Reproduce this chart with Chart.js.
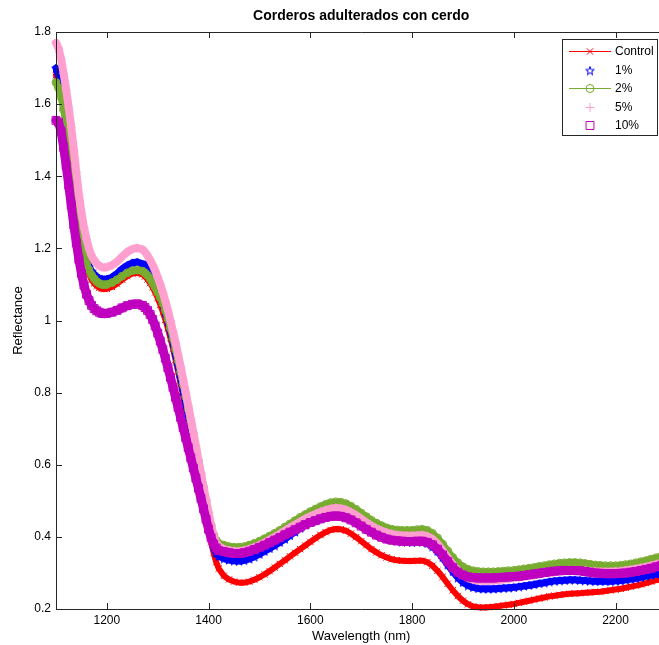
<!DOCTYPE html>
<html>
<head>
<meta charset="utf-8">
<title>Corderos adulterados con cerdo</title>
<script src="https://cdn.jsdelivr.net/npm/chart.js@4/dist/chart.umd.min.js"></script>
<style>
  html, body { margin: 0; padding: 0; background: #fff; overflow: hidden; }
  canvas { display: block; }
</style>
</head>
<body>
<canvas id="chart" width="673" height="645"></canvas>
<script>
// --- data ---
const wavelengths = [
  1100, 1105, 1110, 1115, 1120, 1125, 1130, 1135, 1140, 1145, 1150, 1155, 1160, 1165, 1170, 1175, 1180, 1185, 1190, 1195, 1200,
  1210, 1220, 1230, 1240, 1250, 1260, 1270,
  1275, 1280, 1285, 1290, 1295, 1300, 1305, 1310, 1315, 1320, 1325, 1330, 1335, 1340, 1345, 1350, 1355, 1360, 1365, 1370,
  1375, 1380, 1385, 1390, 1395, 1400, 1405, 1410, 1415, 1420,
  1430, 1440, 1450, 1460, 1470, 1480, 1490, 1500, 1510, 1520, 1530, 1540, 1550, 1560, 1570, 1580, 1590, 1600, 1610, 1620,
  1630, 1640, 1650, 1660, 1670, 1680, 1690, 1700, 1710, 1720, 1730, 1740, 1750, 1760, 1770, 1780, 1790, 1800, 1810, 1820,
  1830, 1840, 1850, 1860, 1870, 1880, 1890, 1900, 1910, 1920, 1930, 1940, 1950, 1960, 1970, 1980, 1990, 2000, 2010, 2020,
  2030, 2040, 2050, 2060, 2070, 2080, 2090, 2100, 2110, 2120, 2130, 2140, 2150, 2160, 2170, 2180, 2190, 2200, 2210, 2220,
  2230, 2240, 2250, 2260, 2270, 2280, 2290, 2300
];

const control = [
  1.68, 1.66, 1.63, 1.59, 1.545, 1.495, 1.44, 1.38, 1.32, 1.265, 1.22, 1.18, 1.15, 1.128, 1.113, 1.103, 1.096, 1.091, 1.088, 1.087, 1.088,
  1.093, 1.102, 1.113, 1.123, 1.13, 1.132, 1.128,
  1.122, 1.114, 1.104, 1.092, 1.078, 1.062, 1.044, 1.024, 1.002, 0.978, 0.951, 0.922, 0.891, 0.859, 0.825, 0.79, 0.754, 0.717, 0.68, 0.642,
  0.604, 0.566, 0.528, 0.49, 0.453, 0.418, 0.385, 0.355, 0.33, 0.312,
  0.292, 0.282, 0.276, 0.273, 0.273, 0.276, 0.281, 0.288, 0.296, 0.305, 0.315, 0.325, 0.335, 0.346, 0.356, 0.366, 0.376, 0.386, 0.396, 0.405,
  0.413, 0.419, 0.422, 0.421, 0.417, 0.409, 0.399, 0.388, 0.377, 0.366, 0.357, 0.349, 0.343, 0.338, 0.335, 0.334, 0.333, 0.333, 0.334, 0.334,
  0.33, 0.32, 0.306, 0.289, 0.27, 0.252, 0.236, 0.223, 0.213, 0.207, 0.205, 0.204, 0.205, 0.206, 0.208, 0.21, 0.212, 0.214, 0.217, 0.22,
  0.223, 0.226, 0.229, 0.232, 0.235, 0.237, 0.239, 0.241, 0.242, 0.243, 0.244, 0.245, 0.246, 0.247, 0.248, 0.25, 0.252, 0.254, 0.256, 0.259,
  0.262, 0.265, 0.268, 0.272, 0.276, 0.28, 0.284, 0.288
];

const pct1 = [
  1.70, 1.68, 1.645, 1.60, 1.55, 1.50, 1.44, 1.38, 1.32, 1.27, 1.23, 1.195, 1.17, 1.15, 1.137, 1.128, 1.121, 1.117, 1.115, 1.114, 1.115,
  1.12, 1.13, 1.143, 1.153, 1.16, 1.162, 1.157,
  1.155, 1.146, 1.134, 1.12, 1.104, 1.087, 1.068, 1.047, 1.024, 0.998, 0.97, 0.94, 0.908, 0.875, 0.841, 0.806, 0.77, 0.733, 0.696, 0.658,
  0.62, 0.582, 0.544, 0.506, 0.469, 0.433, 0.399, 0.372, 0.355, 0.346,
  0.34, 0.336, 0.334, 0.333, 0.335, 0.339, 0.345, 0.352, 0.36, 0.368, 0.376, 0.385, 0.394, 0.404, 0.414, 0.424, 0.433, 0.442, 0.45, 0.457,
  0.464, 0.469, 0.472, 0.471, 0.467, 0.459, 0.449, 0.439, 0.428, 0.418, 0.41, 0.403, 0.397, 0.392, 0.389, 0.387, 0.386, 0.385, 0.386, 0.386,
  0.382, 0.373, 0.36, 0.343, 0.323, 0.304, 0.287, 0.274, 0.265, 0.26, 0.257, 0.256, 0.256, 0.256, 0.257, 0.258, 0.259, 0.26, 0.262, 0.264,
  0.266, 0.268, 0.271, 0.273, 0.276, 0.278, 0.279, 0.28, 0.281, 0.281, 0.28, 0.279, 0.278, 0.277, 0.277, 0.277, 0.277, 0.278, 0.279, 0.281,
  0.283, 0.285, 0.288, 0.291, 0.294, 0.297, 0.3, 0.303
];

const pct2 = [
  1.66, 1.645, 1.62, 1.585, 1.54, 1.49, 1.435, 1.38, 1.32, 1.27, 1.225, 1.19, 1.16, 1.14, 1.126, 1.116, 1.108, 1.103, 1.10, 1.099, 1.10,
  1.105, 1.113, 1.123, 1.132, 1.138, 1.14, 1.137,
  1.132, 1.125, 1.116, 1.104, 1.092, 1.078, 1.064, 1.048, 1.028, 1.005, 0.979, 0.95, 0.92, 0.889, 0.857, 0.823, 0.789, 0.754, 0.718, 0.682,
  0.646, 0.61, 0.573, 0.537, 0.5, 0.465, 0.432, 0.405, 0.39, 0.382,
  0.377, 0.373, 0.371, 0.371, 0.373, 0.377, 0.382, 0.388, 0.395, 0.402, 0.41, 0.418, 0.427, 0.436, 0.445, 0.454, 0.462, 0.47, 0.477, 0.484,
  0.49, 0.495, 0.497, 0.496, 0.492, 0.485, 0.476, 0.466, 0.456, 0.446, 0.438, 0.431, 0.425, 0.421, 0.419, 0.418, 0.418, 0.418, 0.42, 0.421,
  0.418, 0.41, 0.397, 0.38, 0.361, 0.343, 0.328, 0.317, 0.31, 0.306, 0.304, 0.303, 0.303, 0.303, 0.304, 0.305, 0.306, 0.307, 0.309, 0.311,
  0.313, 0.315, 0.318, 0.32, 0.323, 0.325, 0.327, 0.328, 0.329, 0.329, 0.328, 0.326, 0.324, 0.322, 0.321, 0.32, 0.32, 0.32, 0.321, 0.323,
  0.325, 0.328, 0.331, 0.334, 0.338, 0.342, 0.346, 0.35
];

const pct5 = [
  1.77, 1.755, 1.725, 1.685, 1.64, 1.59, 1.535, 1.475, 1.41, 1.35, 1.30, 1.258, 1.225, 1.198, 1.18, 1.167, 1.158, 1.152, 1.148, 1.147, 1.148,
  1.153, 1.163, 1.177, 1.19, 1.198, 1.201, 1.197,
  1.19, 1.18, 1.168, 1.154, 1.138, 1.12, 1.1, 1.078, 1.054, 1.028, 1.0, 0.97, 0.939, 0.906, 0.872, 0.837, 0.801, 0.764, 0.727, 0.69,
  0.652, 0.614, 0.577, 0.54, 0.503, 0.467, 0.432, 0.403, 0.384, 0.374,
  0.366, 0.362, 0.36, 0.36, 0.362, 0.366, 0.371, 0.377, 0.384, 0.392, 0.4, 0.408, 0.417, 0.426, 0.434, 0.442, 0.45, 0.457, 0.463, 0.469,
  0.474, 0.478, 0.48, 0.479, 0.475, 0.468, 0.46, 0.45, 0.44, 0.431, 0.423, 0.417, 0.412, 0.408, 0.405, 0.404, 0.403, 0.403, 0.404, 0.405,
  0.402, 0.394, 0.381, 0.363, 0.343, 0.323, 0.306, 0.294, 0.286, 0.281, 0.279, 0.278, 0.278, 0.279, 0.28, 0.282, 0.284, 0.286, 0.288, 0.29,
  0.292, 0.294, 0.297, 0.3, 0.302, 0.304, 0.306, 0.307, 0.308, 0.308, 0.307, 0.306, 0.305, 0.304, 0.303, 0.303, 0.303, 0.304, 0.305, 0.307,
  0.309, 0.311, 0.314, 0.317, 0.32, 0.324, 0.328, 0.332
];

const pct10 = [
  1.555, 1.55, 1.525, 1.48, 1.43, 1.375, 1.32, 1.265, 1.215, 1.17, 1.13, 1.098, 1.073, 1.055, 1.042, 1.033, 1.027, 1.023, 1.02, 1.019, 1.02,
  1.023, 1.028, 1.035, 1.041, 1.045, 1.046, 1.042,
  1.036, 1.028, 1.017, 1.003, 0.985, 0.965, 0.943, 0.92, 0.895, 0.869, 0.842, 0.815, 0.787, 0.759, 0.731, 0.703, 0.675, 0.647, 0.619, 0.591,
  0.563, 0.535, 0.507, 0.478, 0.449, 0.421, 0.397, 0.38, 0.369, 0.362,
  0.359, 0.356, 0.354, 0.354, 0.356, 0.36, 0.365, 0.371, 0.377, 0.384, 0.391, 0.398, 0.406, 0.413, 0.42, 0.427, 0.434, 0.44, 0.445, 0.45,
  0.454, 0.457, 0.458, 0.457, 0.453, 0.447, 0.439, 0.43, 0.421, 0.413, 0.405, 0.399, 0.394, 0.391, 0.389, 0.388, 0.387, 0.387, 0.388, 0.388,
  0.385, 0.378, 0.366, 0.35, 0.332, 0.315, 0.302, 0.294, 0.289, 0.287, 0.286, 0.286, 0.286, 0.286, 0.287, 0.288, 0.289, 0.29, 0.291, 0.293,
  0.295, 0.297, 0.299, 0.301, 0.303, 0.305, 0.306, 0.307, 0.307, 0.307, 0.306, 0.304, 0.302, 0.3, 0.299, 0.298, 0.298, 0.298, 0.299, 0.3,
  0.302, 0.304, 0.307, 0.31, 0.313, 0.317, 0.321, 0.325
];

const seriesNames = ["Control", "1%", "2%", "5%", "10%"];
const xTicks = [1200, 1400, 1600, 1800, 2000, 2200];
const xTickLabels = ["1200", "1400", "1600", "1800", "2000", "2200"];
const yTicks = [0.2, 0.4, 0.6, 0.8, 1.0, 1.2, 1.4, 1.6, 1.8];
const yTickLabels = ["0.2", "0.4", "0.6", "0.8", "1", "1.2", "1.4", "1.6", "1.8"];

const FONT = "'Liberation Sans', Arial, Helvetica, sans-serif";
const AXIS_COLOR = "#262626";

// MATLAB style pentagram marker
function makePentagram(color, size) {
  const c = document.createElement("canvas");
  c.width = size;
  c.height = size;
  const g = c.getContext("2d");
  const cx = size / 2, cy = size / 2 + 0.5;
  const R = size / 2 - 0.5, r = R * 0.4;
  g.strokeStyle = color;
  g.lineWidth = 1;
  g.beginPath();
  for (let i = 0; i < 10; i++) {
    const a = -Math.PI / 2 + i * Math.PI / 5;
    const rad = i % 2 ? r : R;
    const px = cx + rad * Math.cos(a), py = cy + rad * Math.sin(a);
    if (i === 0) g.moveTo(px, py); else g.lineTo(px, py);
  }
  g.closePath();
  g.stroke();
  return c;
}

const toPoints = (vals) => vals.map((v, i) => ({ x: wavelengths[i], y: v }));
const star = makePentagram("#0000ff", 10);

// the markers are so dense in the original that every series reads as a band,
// so each one gets a thick stroke of its own colour under its markers
const datasets = [
  {
    label: seriesNames[0], data: toPoints(control), order: 5, legendLine: true,
    borderColor: "#ff0000", borderWidth: 6,
    pointStyle: "crossRot", pointRadius: 4.5, pointBorderColor: "#ff0000",
    pointBackgroundColor: "#ff0000", pointBorderWidth: 1
  },
  {
    label: seriesNames[1], data: toPoints(pct1), order: 4, legendLine: false,
    borderColor: "#0000ff", borderWidth: 7,
    pointStyle: star, pointRadius: 5, pointBorderColor: "#0000ff", pointBorderWidth: 1
  },
  {
    label: seriesNames[2], data: toPoints(pct2), order: 3, legendLine: true,
    borderColor: "#77ac30", borderWidth: 7,
    pointStyle: "circle", pointRadius: 4, pointBorderColor: "#77ac30",
    pointBackgroundColor: "rgba(0,0,0,0)", pointBorderWidth: 1
  },
  {
    label: seriesNames[3], data: toPoints(pct5), order: 2, legendLine: false,
    borderColor: "#ff9fcf", borderWidth: 8,
    pointStyle: "cross", pointRadius: 4.5, pointBorderColor: "#ff9fcf", pointBorderWidth: 1
  },
  {
    label: seriesNames[4], data: toPoints(pct10), order: 1, legendLine: false,
    borderColor: "#bf00bf", borderWidth: 9,
    pointStyle: "rect", pointRadius: 5.6, pointBorderColor: "#bf00bf",
    pointBackgroundColor: "rgba(0,0,0,0)", pointBorderWidth: 1
  }
];

// box, inward ticks and the legend drawn the MATLAB way
const matlabAxes = {
  id: "matlabAxes",
  afterDraw(chart) {
    const { ctx, chartArea: a, scales: { x, y } } = chart;
    const tick = 6;
    ctx.save();
    ctx.strokeStyle = AXIS_COLOR;
    ctx.lineWidth = 1;
    ctx.beginPath();
    ctx.rect(a.left + 0.5, a.top + 0.5, a.right - a.left, a.bottom - a.top);
    xTicks.forEach((v) => {
      const px = Math.round(x.getPixelForValue(v)) + 0.5;
      ctx.moveTo(px, a.bottom); ctx.lineTo(px, a.bottom - tick);
      ctx.moveTo(px, a.top); ctx.lineTo(px, a.top + tick);
    });
    yTicks.forEach((v) => {
      const py = Math.round(y.getPixelForValue(v)) + 0.5;
      ctx.moveTo(a.left, py); ctx.lineTo(a.left + tick, py);
      ctx.moveTo(a.right, py); ctx.lineTo(a.right - tick, py);
    });
    ctx.stroke();

    // legend
    const box = { left: 562, top: 39, right: 657, bottom: 135 };
    ctx.fillStyle = "#fff";
    ctx.fillRect(box.left, box.top, box.right - box.left, box.bottom - box.top);
    ctx.strokeRect(box.left + 0.5, box.top + 0.5, box.right - box.left, box.bottom - box.top);
    ctx.font = "12px " + FONT;
    ctx.textBaseline = "middle";
    ctx.textAlign = "left";
    chart.data.datasets.forEach((ds, i) => {
      const ly = Math.round(51 + i * 18.6) + 0.5;
      ctx.lineWidth = 1;
      if (ds.legendLine) {
        ctx.strokeStyle = ds.borderColor;
        ctx.beginPath();
        ctx.moveTo(569, ly);
        ctx.lineTo(611, ly);
        ctx.stroke();
      }
      ctx.strokeStyle = ds.pointBorderColor;
      ctx.fillStyle = "rgba(0,0,0,0)";
      Chart.helpers.drawPoint(ctx, {
        pointStyle: ds.pointStyle, radius: ds.pointRadius, rotation: 0, borderWidth: 1
      }, 590, ly);
      ctx.fillStyle = "#000";
      ctx.fillText(ds.label, 615, ly + 0.5);
    });
    ctx.restore();
  }
};

Chart.defaults.font.family = FONT;
Chart.defaults.color = "#000";

new Chart(document.getElementById("chart"), {
  type: "line",
  data: { datasets },
  options: {
    responsive: false,
    animation: false,
    events: [],
    clip: false,
    layout: { padding: { left: 0, right: 4, top: 0, bottom: 0 } },
    elements: { line: { tension: 0, borderJoinStyle: "round", borderCapStyle: "round" } },
    plugins: {
      legend: { display: false },
      tooltip: { enabled: false },
      title: {
        display: true,
        fullSize: false,
        text: "Corderos adulterados con cerdo",
        color: "#000",
        font: { size: 14, weight: "bold", family: FONT },
        padding: { top: 8, bottom: 7.2 }
      }
    },
    scales: {
      x: {
        type: "linear",
        min: 1100,
        max: 2300,
        afterBuildTicks: (s) => { s.ticks = xTicks.map((v) => ({ value: v })); },
        afterFit: (s) => { s.height = 36; },
        grid: { display: false, drawTicks: false },
        border: { display: false },
        ticks: {
          autoSkip: false, maxRotation: 0, padding: 4,
          font: { size: 12 },
          callback: (v, i) => xTickLabels[i]
        },
        title: {
          display: true, text: "Wavelength (nm)",
          font: { size: 13 }, padding: { top: 0, bottom: 1 }
        }
      },
      y: {
        min: 0.2,
        max: 1.8,
        afterBuildTicks: (s) => { s.ticks = yTicks.map((v) => ({ value: v })); },
        afterFit: (s) => { s.width = 56; },
        grid: { display: false, drawTicks: false },
        border: { display: false },
        ticks: {
          padding: 5,
          font: { size: 12 },
          callback: (v, i) => yTickLabels[i]
        },
        title: {
          display: true, text: "Reflectance",
          font: { size: 13 }, padding: { top: 11, bottom: 0 }
        }
      }
    }
  },
  plugins: [matlabAxes]
});
</script>
</body>
</html>
